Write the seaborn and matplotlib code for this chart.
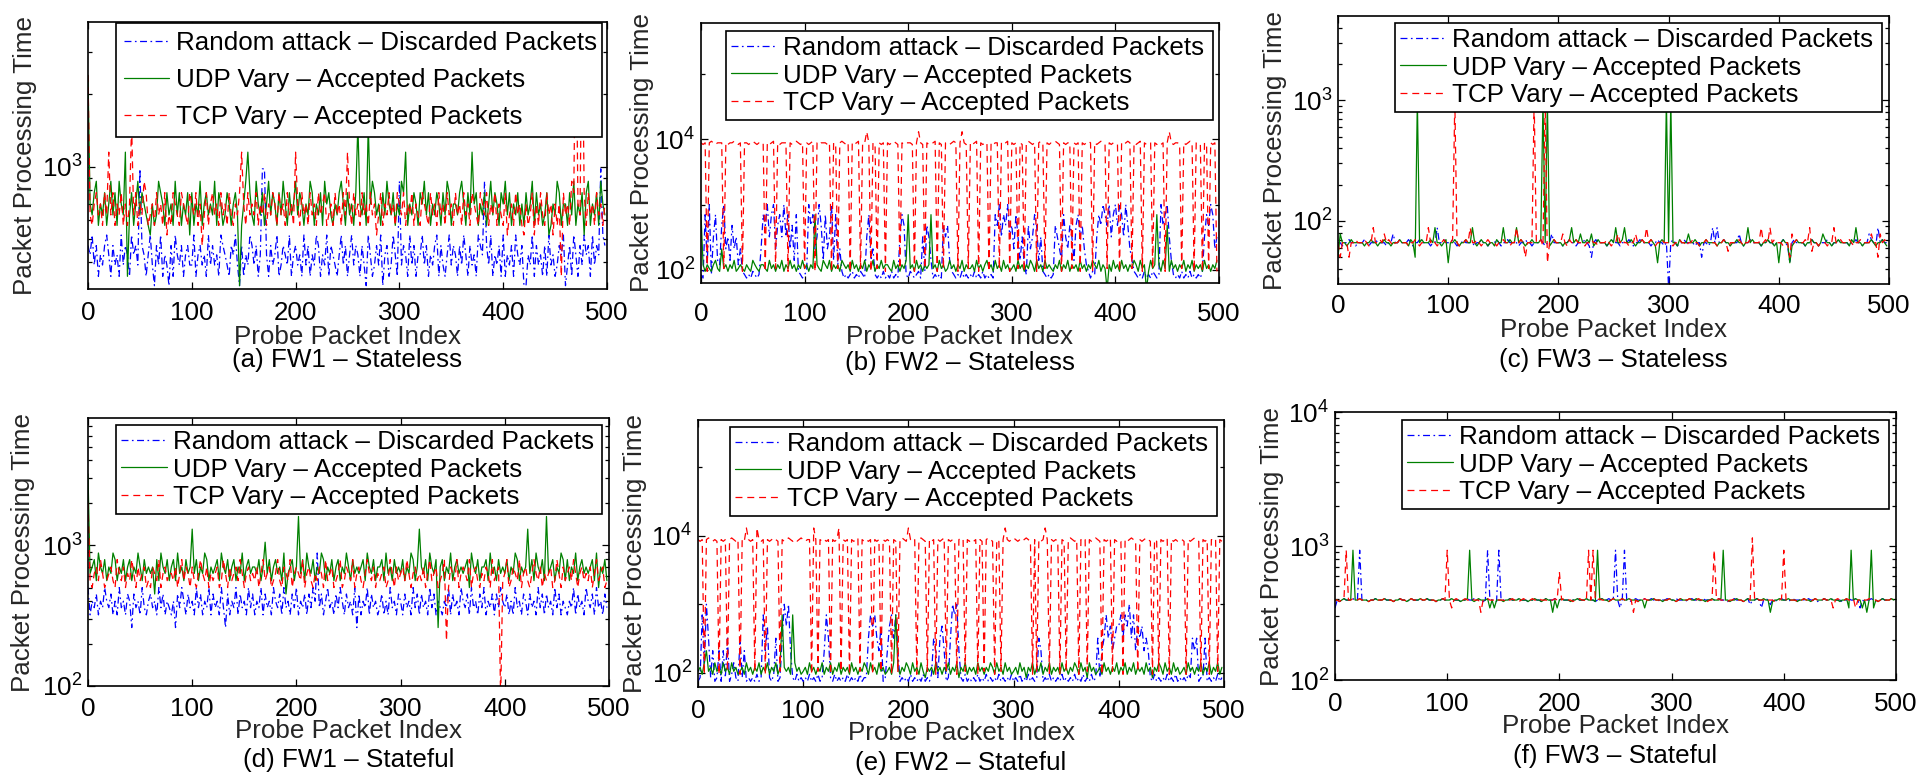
import numpy as np
import pandas as pd
import matplotlib
matplotlib.use("Agg")
import matplotlib.pyplot as plt
import seaborn as sns
from matplotlib.ticker import FixedLocator, NullFormatter, NullLocator, LogFormatterSciNotation

# ------------------------------------------------------------------ data
SERIES_LABELS = ["Random attack \u2013 Discarded Packets",
                 "UDP Vary \u2013 Accepted Packets",
                 "TCP Vary \u2013 Accepted Packets"]
SUBTITLES = ["(a) FW1 \u2013 Stateless", "(b) FW2 \u2013 Stateless", "(c) FW3 \u2013 Stateless",
             "(d) FW1 \u2013 Stateful", "(e) FW2 \u2013 Stateful", "(f) FW3 \u2013 Stateful"]
X_TICKS = [0, 100, 200, 300, 400, 500]
X_LABEL = "Probe Packet Index"
Y_LABEL = "Packet Processing Time"
X_STEP = 2  # one sample every 2 probe packets

# each character of a series string is an index (base 36) into the panel's value levels
LEVELS_A = [320, 350, 390, 430, 470, 520, 570, 630, 700, 780, 870, 980, 1150, 1500, 2400, 5000]
BLUE_A = "".join(["4352413245", "3142315243", "15342b4313", "5204251320", "4153241342",
                  "2513423152", "4231543214", "3520413254", "2413bb3142", "3512432513",
                  "4231524132", "5413251432", "1352413524", "3142053124", "2503412531",
                  "a243152413", "3524132451", "4213524314", "2531423154", "3a42513241",
                  "5132415324", "0032514231", "4152312435", "0241531425", "3415243b54"])
GREEN_A = "".join(["e879a68796", "8a796a87c1", "7968a79876", "5867a98697", "86a7968795",
                   "9687a68978", "7a69867986", "897068ac97", "6a87968a79", "8697a86978",
                   "a798687a96", "8796a89768", "79a8697869", "d8796d8a97", "8697a87968",
                   "7a9c687986", "98a7968798", "697a968879", "a8697c8968", "7968a79869",
                   "8a79687968", "6978a69786", "795687a968", "8697a68795", "9a68796a87"])
RED_A = "".join(["e768978697", "c796879686", "8d79687a96", "7869786957", "6987698769",
                 "8796847968", "9786978697", "6879c86978", "7968796879", "8697869786",
                 "c869786978", "6978967869", "78697c8697", "8697869785", "7968797869",
                 "8796879687", "6987697869", "7869786978", "6978698769", "8796879687",
                 "6957869786", "5867958697", "6978586819", "786a9f87f9", "6978697868"])

LEVELS_B = [50, 75, 85, 95, 105, 120, 140, 210, 320, 480, 700, 1000, 8300, 8800, 9300, 13000]
BLUE_B = "".join(["21a5b28a65", "9b78697857", "3212132127", "a9b8ab79a8", "b8a796a321",
                  "23b9a78b96", "a78b6a5731", "2123121321", "8a67212131", "2131218a92",
                  "1321231839", "8612121989", "6321213121", "2131213121", "21a9b8a9b8",
                  "97a8685297", "8a96832121", "29876a8798", "69a8975313", "28a9ba9b8a",
                  "b9ba8b9763", "2121312132", "12b9ab8621", "2131213121", "2138a9ba78"])
GREEN_B = "".join(["a535435643", "7453546345", "4354365435", "5436453546", "3546453546",
                   "45354a5436", "5463545365", "4536453546", "3546354645", "5436453546",
                   "a453645354", "5a45364534", "6453546354", "4536453564", "5364536453",
                   "4536453546", "5364536454", "3546354635", "4536453546", "5463540536",
                   "4536453546", "5364503645", "a536493645", "3546354635", "4536453546"])
RED_B = "".join(["dcd3dedcdd", "d4dcddedcd", "3ddcdedcdd", "d3dcde4dcd", "dd3dcdedcd",
                 "4dcde3dcdd", "dcd3dc4ded", "cd3dcde4dd", "fd3dc4dcd3", "dcdedc4dcd",
                 "ddc3dfdc4d", "cdde3dc4dd", "cded3dfdc4", "dcde3dcdd3", "dcdd4dcde3",
                 "dcd4dc3ded", "cd3dec4dcd", "dedc3dcdd4", "dcd3dcded3", "dcdedc4dcd",
                 "dc3dcded4d", "cde3dcdd4d", "cdcd3dfdcd", "dc4dcded3d", "dc3dc4dcd3"])

LEVELS_C = [28, 45, 50, 56, 62, 66, 70, 78, 88, 96, 1000]
BLUE_C = "".join(["5545565545", "5565455655", "5545575565", "5565455655", "5545585565",
                  "5565455655", "5545565545", "5565455655", "5545565545", "5565455755",
                  "5545565545", "5565425655", "5545565545", "5565455655", "5545565545",
                  "0565455655", "5545525545", "8585565545", "5575455655", "5545565545",
                  "5565415655", "5545565545", "5565455655", "5545565545", "5765485655"])
GREEN_C = "".join(["2755456555", "5545565545", "5655455565", "554652a565", "5565855456",
                   "1556545565", "5854565545", "5465585565", "5856545565", "556a5a4565",
                   "5545568565", "7556574565", "5545658556", "8556545565", "556541565a",
                   "5a55465557", "5565455655", "5545565545", "5655458565", "5545565545",
                   "1565514565", "5545565545", "7655455655", "5546585545", "5565455654"])
RED_C = "".join(["5255525565", "5565458556", "5756545565", "5545565455", "5856545565",
                 "556a545565", "8556545565", "5545565545", "585652555a", "5564a15565",
                 "5575465565", "5545565545", "5565455756", "5545575565", "8565455655",
                 "5545565545", "5655455655", "5545565355", "5565455655", "5585658565",
                 "5545527565", "5565835545", "5545585565", "5565455655", "5575527565"])

LEVELS_D = [80, 210, 260, 320, 360, 400, 450, 500, 560, 630, 700, 790, 880, 1050, 1300, 1600, 3200, 2000]
BLUE_D = "".join(["7354635475", "4635374536", "5264537435", "6453746354", "3526475364",
                  "5374635473", "6453742635", "4736453746", "3547364537", "5463745364",
                  "7354636475", "c463574536", "4753645372", "6354736453", "4635374536",
                  "5364537463", "6453746354", "3547364537", "5463745364", "7354636475",
                  "4635374536", "5364537463", "6453746354", "3547364537", "5463745364"])
GREEN_D = "".join(["g9ab8ca9b8", "a9cb8a9b8a", "b8a9ca8b9a", "9a6b8ca9b8", "ab8c9a8b9a",
                   "e9b8a9cb8a", "9ab8ca9b8a", "b8a9c8ab9a", "a9b8ad9b8a", "b9a8c69ab8",
                   "af9b8ca9b8", "a9cb8a9b8a", "b8a9ca8b9a", "9ab8ca9b8a", "ab8c9a8b9a",
                   "9b8a9cb8ae", "a9b8ca9b2a", "b8a9c8ab9a", "9ab7ca9b8a", "ab8c9a8b9a",
                   "9b8a9cb8a9", "ae9b8ca9b8", "f9ab8a9cb8", "b8a9c8ab9a", "9ab8c7a9b8"])
RED_D = "".join(["h879a8b978", "9a87b98a79", "8b97a89a78", "7a98b79a89", "98a79b8a97",
                 "a879b98a79", "89a78b97a8", "9a8b979a89", "8a79b89a78", "9b87a98b79",
                 "a98b79a879", "8a97b89a78", "9b78a98b79", "a879b98a79", "89a78b97a8",
                 "9a8b979a89", "8a79b89a78", "9b17a98b79", "a98b79a879", "8a97b89a08",
                 "9b78a98b79", "a879b98a79", "89a78b97a8", "9a8b979a89", "8a79b89a78"])

LEVELS_E = [50, 75, 85, 95, 105, 120, 140, 210, 320, 480, 700, 1000, 8300, 8800, 9300, 13000]
BLUE_E = "".join(["12a5b82712", "7172813621", "8271212131", "2a79213812", "8b9b721312",
                  "1213121312", "7a82131212", "1312121312", "28a9a87912", "79a8a71212",
                  "1312121312", "1387289712", "8bab721312", "1213121312", "1213121213",
                  "1213121312", "1287121312", "1213121213", "1213121312", "8278a89789",
                  "9a8a9b8a79", "8978721312", "1213121312", "1213287812", "2812121312"])
GREEN_E = "".join(["4536745364", "5364536453", "4536453546", "3546354635", "a5453a6453",
                   "4536453546", "3546354635", "4536453546", "5364536453", "4536a53546",
                   "5364536425", "4536453546", "3546254635", "4536453546", "5364536453",
                   "4536452546", "3546354635", "4536453546", "5364526453", "4536453546",
                   "3546354635", "4536452546", "5364536453", "4536453546", "3546354635"])
RED_E = "".join(["dcd3dedcdc", "3dcd4dedcd", "3dcfdcd4fd", "cd3dcdedc4", "dcdedcdcde",
                 "dcdd3fd4dc", "dcd3dcdf4d", "cd3dcde4dc", "dcd3dcd4dc", "dc3dc4dedc",
                 "fdcd3dedc4", "dcd3dcde4d", "cdc3ded4dc", "dcd3dc4ded", "c3dc4dfdcd",
                 "edcdcdedc3", "d4dcdfd3dc", "dc3dc4dedc", "d3dcd4dcde", "dc3dcde4dc",
                 "dc3dcdedc4", "dcdedc3dc4", "dcde3dcdcd", "dc3dcdedc4", "dcd3dcd4dc"])

LEVELS_F = [320, 345, 365, 385, 395, 405, 640, 930, 1150]
BLUE_F = "".join(["1434544454", "4744434454", "4454443445", "4434544454", "4544434454",
                  "4454443445", "4454443475", "4437444454", "4454443445", "4434544454",
                  "4544434454", "4454443445", "4454474147", "4434544454", "4544434454",
                  "4454443445", "4434544454", "4544434454", "4434524454", "1454243445",
                  "4434544454", "4544434454", "4454443445", "4454143445", "4434544454"])
GREEN_F = "".join(["4434544474", "4544434454", "4454443445", "4434544454", "4544434454",
                   "4454443445", "7434544451", "4144434454", "4454443445", "4434544041",
                   "4544434454", "4454443745", "4434544454", "4544434414", "4454443445",
                   "4434544454", "4544434454", "4457443445", "4434544454", "4544034454",
                   "4454443445", "4434544454", "4544434451", "7454414047", "1434544454"])
RED_F = "".join(["4434574454", "4544434454", "4454443445", "4434544454", "4544434454",
                 "7414544454", "4544404454", "4454443445", "4434544454", "4544434454",
                 "6454443445", "4437474454", "4434544454", "4540434454", "4454443445",
                 "4434544454", "4454443447", "4544434454", "4434548454", "4454443445",
                 "7454443445", "4434544454", "4414544454", "4514434454", "4434544454"])

# ------------------------------------------------------------------ style
sns.set_style("ticks")
FS = 18.7
plt.rcParams.update({
    "font.family": ["Liberation Sans", "DejaVu Sans"],
    "mathtext.fontset": "custom",
    "mathtext.rm": "Liberation Sans",
    "mathtext.it": "Liberation Sans:italic",
    "mathtext.bf": "Liberation Sans:bold",
    "axes.edgecolor": "black",
    "axes.linewidth": 1.2,
    "axes.facecolor": "white",
    "figure.facecolor": "white",
    "lines.scale_dashes": False,
    "text.color": "black",
    "xtick.color": "black",
    "ytick.color": "black",
})

COLORS = ["#0000ff", "#008000", "#ff0000"]
DASHES = [[5, 2.5, 1.2, 2.5], None, [5, 3.5]]


def decode(s, levels):
    return np.array([levels[int(ch, 36)] for ch in s], dtype=float)


PANELS = [
    dict(series=(BLUE_A, GREEN_A, RED_A), levels=LEVELS_A, px=(88, 22, 607, 289), ylim=(310, 4000),
         major=[1e3], minor="sub", leg=(116, 602, 23), ls=0.5, bp=0.3,
         ylab=-0.122, xpad=8.4, xl=337, st=360),
    dict(series=(BLUE_B, GREEN_B, RED_B), levels=LEVELS_B, px=(701, 23, 1219, 283), ylim=(63, 6e5),
         major=[1e2, 1e4], minor=[1e3, 1e5], leg=(726, 1213, 31), ls=0.13, bp=0.2,
         ylab=-0.113, xpad=14, xl=337, st=363),
    dict(series=(BLUE_C, GREEN_C, RED_C), levels=LEVELS_C, px=(1338, 16, 1889, 284), ylim=(30, 5000),
         major=[1e2, 1e3], minor="sub", leg=(1395, 1882, 23), ls=0.13, bp=0.2,
         ylab=-0.115, xpad=7, xl=330, st=360),
    dict(series=(BLUE_D, GREEN_D, RED_D), levels=LEVELS_D, px=(88, 418, 609, 686), ylim=(100, 8000),
         major=[1e2, 1e3], minor="sub", leg=(116, 602, 425), ls=0.13, bp=0.2,
         ylab=-0.124, xpad=7.7, xl=731, st=760),
    dict(series=(BLUE_E, GREEN_E, RED_E), levels=LEVELS_E, px=(698, 420, 1224, 687), ylim=(62, 4.9e5),
         major=[1e2, 1e4], minor=[1e3, 1e5], leg=(730, 1217, 427), ls=0.13, bp=0.2,
         ylab=-0.119, xpad=8.4, xl=733, st=763),
    dict(series=(BLUE_F, GREEN_F, RED_F), levels=LEVELS_F, px=(1335, 412, 1896, 680), ylim=(100, 1e4),
         major=[1e2, 1e3, 1e4], minor="sub", leg=(1402, 1889, 420), ls=0.13, bp=0.2,
         ylab=-0.112, xpad=8.4, xl=726, st=756),
]

W, H = 1921, 776
fig = plt.figure(figsize=(W / 100, H / 100), dpi=100)

for p, title in zip(PANELS, SUBTITLES):
    x0, y0, x1, y1 = p["px"]
    ax = fig.add_axes([x0 / W, 1 - y1 / H, (x1 - x0) / W, (y1 - y0) / H])
    handles = []
    for s, col, dash, lab in zip(p["series"], COLORS, DASHES, SERIES_LABELS):
        vals = decode(s, p["levels"])
        df = pd.DataFrame({"idx": np.arange(len(vals)) * X_STEP, "t": vals})
        sns.lineplot(data=df, x="idx", y="t", ax=ax, color=col, linewidth=0.9,
                     estimator=None, sort=False, legend=False)
        ln = ax.lines[-1]
        ln.set_label(lab)
        if dash is not None:
            ln.set_dashes(dash)
        handles.append(ln)

    ax.set_yscale("log")
    ax.set_ylim(*p["ylim"])
    ax.set_xlim(0, 500)
    ax.set_xticks(X_TICKS)
    ax.xaxis.set_minor_locator(NullLocator())
    ax.yaxis.set_major_locator(FixedLocator(p["major"]))
    ax.yaxis.set_major_formatter(LogFormatterSciNotation())
    if p["minor"] == "sub":
        lo, hi = p["ylim"]
        mins = [m * 10 ** e for e in range(0, 6) for m in range(2, 10) if lo < m * 10 ** e < hi]
    else:
        mins = p["minor"]
    ax.yaxis.set_minor_locator(FixedLocator(mins))
    ax.yaxis.set_minor_formatter(NullFormatter())

    ax.tick_params(axis="both", which="both", direction="in", top=True, right=True,
                   labelsize=FS, width=0.9)
    ax.tick_params(axis="both", which="major", length=5)
    ax.tick_params(axis="both", which="minor", length=3)
    ax.tick_params(axis="x", which="major", pad=p["xpad"])
    ax.tick_params(axis="y", which="major", pad=4.3)
    for sp in ax.spines.values():
        sp.set_visible(True)
        sp.set_color("black")
        sp.set_linewidth(1.2)

    ax.set_ylabel(Y_LABEL, fontsize=FS)
    ax.yaxis.label.set_verticalalignment("center")
    ax.yaxis.set_label_coords(p["ylab"], 0.5)
    ax.set_xlabel(X_LABEL, fontsize=FS)
    ax.xaxis.label.set_verticalalignment("center")
    hgt = y1 - y0
    ax.xaxis.set_label_coords(0.5, (y1 - p["xl"]) / hgt)
    ax.text(0.5, (y1 - p["st"]) / hgt, title, transform=ax.transAxes,
            ha="center", va="center", fontsize=FS)

    lx0, lx1, ly = p["leg"]
    leg = ax.legend(handles, SERIES_LABELS, loc="upper left",
                    bbox_to_anchor=(lx0 / W, 1 - ly / H - 0.001, (lx1 - lx0) / W, 0.001),
                    bbox_transform=fig.transFigure, mode="expand", borderaxespad=0,
                    frameon=True, fancybox=False, framealpha=1, edgecolor="black",
                    facecolor="white", fontsize=FS, handlelength=1.75, handletextpad=0.25,
                    borderpad=p["bp"], labelspacing=p["ls"])
    leg.get_frame().set_linewidth(1.2)

fig.savefig("out.png", dpi=100)
